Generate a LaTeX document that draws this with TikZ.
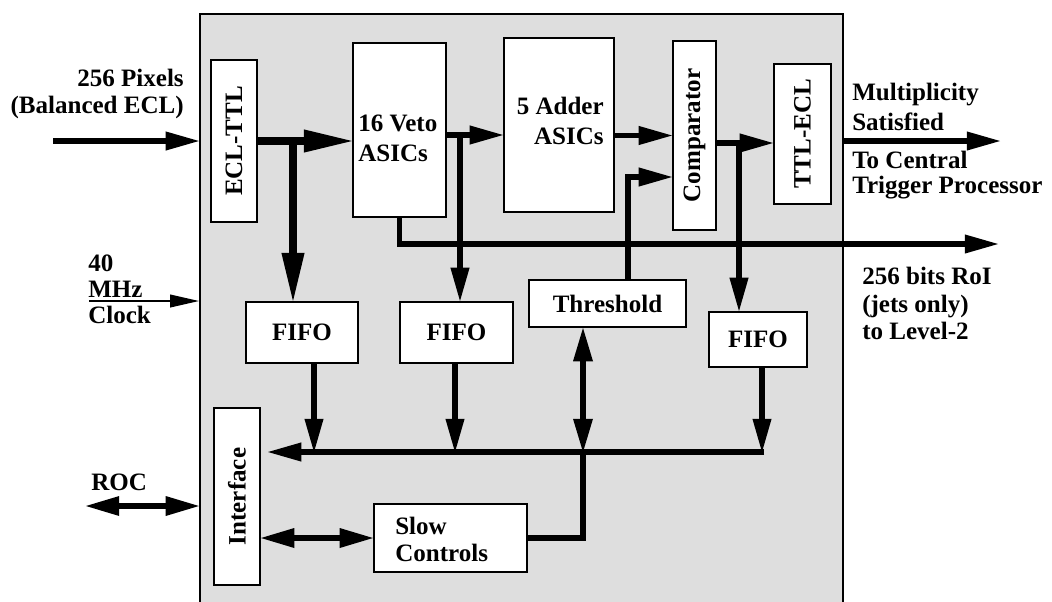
\documentclass[tikz,border=0pt]{standalone}
\usepackage{fontspec}
\setmainfont{Liberation Serif}
\usetikzlibrary{arrows.meta}
\newcommand{\boardfont}[1]{\fontsize{17.8}{#1}\selectfont\bfseries}

\begin{document}
\begin{tikzpicture}[x=0.025cm, y=-0.025cm,
    blk/.style={draw, fill=white, line width=1.5pt, inner sep=0pt, font=\boardfont{19pt}},
    lbl/.style={inner sep=0pt, align=left},
    wire/.style={line width=3.6pt},
    fatwire/.style={line width=5.4pt},
    tip/.style={-{Triangle[length=0.83cm, width=0.48cm, line width=0pt]}},
    bigtip/.style={-{Triangle[length=1.2cm, width=0.58cm, line width=0pt]}},
    twotip/.style={{Triangle[length=0.83cm, width=0.5cm, line width=0pt]}-{Triangle[length=0.83cm, width=0.5cm, line width=0pt]}}]
  \useasboundingbox (0,0) rectangle (1052,601);
  \clip (0,0) rectangle (1052,601);

  % Drawing the board
  \node[draw, fill=black!13, line width=1.5pt, minimum width=16.075cm, minimum height=15.15cm] (board) at (521.5,317) {};

  % Drawing the blocks
  \node[blk, minimum width=1.15cm, minimum height=4.05cm] (ecl) at (234,141) {\rotatebox{90}{ECL-TTL}};
  \node[blk, minimum width=2.325cm, minimum height=4.35cm] (veto) at (399.5,130) {};
  \node[blk, minimum width=2.75cm, minimum height=4.35cm] (adder) at (559,125) {};
  \node[blk, minimum width=1.075cm, minimum height=4.725cm] (comp) at (694.5,135.5) {\rotatebox{90}{Comparator}};
  \node[blk, minimum width=1.425cm, minimum height=3.5cm] (ttl) at (802.5,134) {\rotatebox{90}{TTL-ECL}};
  \node[blk, minimum width=2.8cm, minimum height=1.525cm] (fifoa) at (302,332.5) {FIFO};
  \node[blk, minimum width=2.825cm, minimum height=1.525cm] (fifob) at (456.5,332.5) {FIFO};
  \node[blk, minimum width=2.45cm, minimum height=1.375cm] (fifoc) at (758,339.5) {FIFO};
  \node[blk, minimum width=3.925cm, minimum height=1.175cm] (thr) at (607.5,303.5) {Threshold};
  \node[blk, minimum width=1.15cm, minimum height=4.425cm] (ifc) at (237,496.5) {\rotatebox{90}{Interface}};
  \node[blk, minimum width=3.825cm, minimum height=1.7cm] (slow) at (450.5,538) {};

  % Marking the texts
  \node[lbl, font=\boardfont{21.3pt}, anchor=west] (vetotxt) at (358,138.5) {16 Veto\\ASICs};
  \node[lbl, font=\boardfont{21.3pt}, anchor=east, align=right] (addtxt) at (604,120.5) {5 Adder\\ASICs};
  \node[lbl, font=\boardfont{19.2pt}, anchor=west] (slowtxt) at (395,539.5) {Slow\\Controls};
  \node[lbl, font=\boardfont{18.7pt}, anchor=east, align=right] (pixtxt) at (184,94) {256 Pixels\\(Balanced ECL)};
  \node[lbl, font=\boardfont{18.5pt}, anchor=west] (clktxt) at (88,289) {40\\MHz\\Clock};
  \node[lbl, font=\boardfont{19pt}, anchor=base west] (roctxt) at (91,490) {ROC};
  \node[lbl, font=\boardfont{21.3pt}, anchor=west] (multtxt) at (852,106.5) {Multiplicity\\Satisfied};
  \node[lbl, font=\boardfont{17.8pt}, anchor=west] (ctptxt) at (852,175) {To Central\\Trigger Processor};
  \node[lbl, font=\boardfont{19.6pt}, anchor=west] (roitxt) at (862,303.5) {256 bits RoI\\(jets only)\\to Level-2};

  % Marking the free ends and branch points
  \coordinate (pixin) at (53,141);
  \coordinate (clkin) at (89,301);
  \coordinate (rocin) at (86,506);
  \coordinate (eclbr) at (293,141);
  \coordinate (vetobr) at (460,135);
  \coordinate (thrbr) at (628,177);
  \coordinate (compbr) at (739,143);
  \coordinate (multout) at (1000,141);
  \coordinate (roiout) at (998,244);
  \coordinate (busend) at (764,452);
  \coordinate (busa) at (314,452);
  \coordinate (busb) at (455,452);
  \coordinate (busc) at (762,452);
  \coordinate (busthr) at (583,452);

  % Drawing the inputs
  \draw[line width=4.3pt, tip] (pixin) -- (pixin -| board.west);
  \draw[line width=1.4pt, -{Triangle[length=0.72cm, width=0.33cm, line width=0pt]}] (clkin) -- (clkin -| board.west);
  \draw[wire, twotip] (rocin) -- (rocin -| board.west);

  % Drawing the trigger path
  \draw[fatwire, bigtip] (ecl.east) -- (ecl.east -| veto.west);
  \draw[fatwire, bigtip] (eclbr) -- (eclbr |- fifoa.north);
  \draw[wire, tip] (vetobr -| veto.east) -- (vetobr -| adder.west);
  \draw[wire, tip] (vetobr) -- (vetobr |- fifob.north);
  \draw[wire, tip] (veto.south) |- (roiout);
  \draw[wire, tip] (adder.east |- comp.west) -- (comp.west);
  \draw[wire, tip] (thrbr |- thr.north) |- (thrbr -| comp.west);
  \draw[wire, tip] (compbr -| comp.east) -- (compbr -| ttl.west);
  \draw[wire, tip] (compbr) -- (compbr |- fifoc.north);
  \draw[wire, tip] (board.east |- multout) -- (multout);

  % Drawing the readout bus
  \draw[wire, tip] (busa |- fifoa.south) -- (busa);
  \draw[wire, tip] (busb |- fifob.south) -- (busb);
  \draw[wire, tip] (busc |- fifoc.south) -- (busc);
  \draw[wire, tip, shorten >=0.175cm] (busend) -- (busend -| ifc.east);
  \draw[wire, twotip] (busthr |- thr.south) -- (busthr);
  \draw[wire] (slow.east) -| (busthr);
  \draw[wire, twotip] (ifc.east |- slow.west) -- (slow.west);
\end{tikzpicture}
\end{document}
